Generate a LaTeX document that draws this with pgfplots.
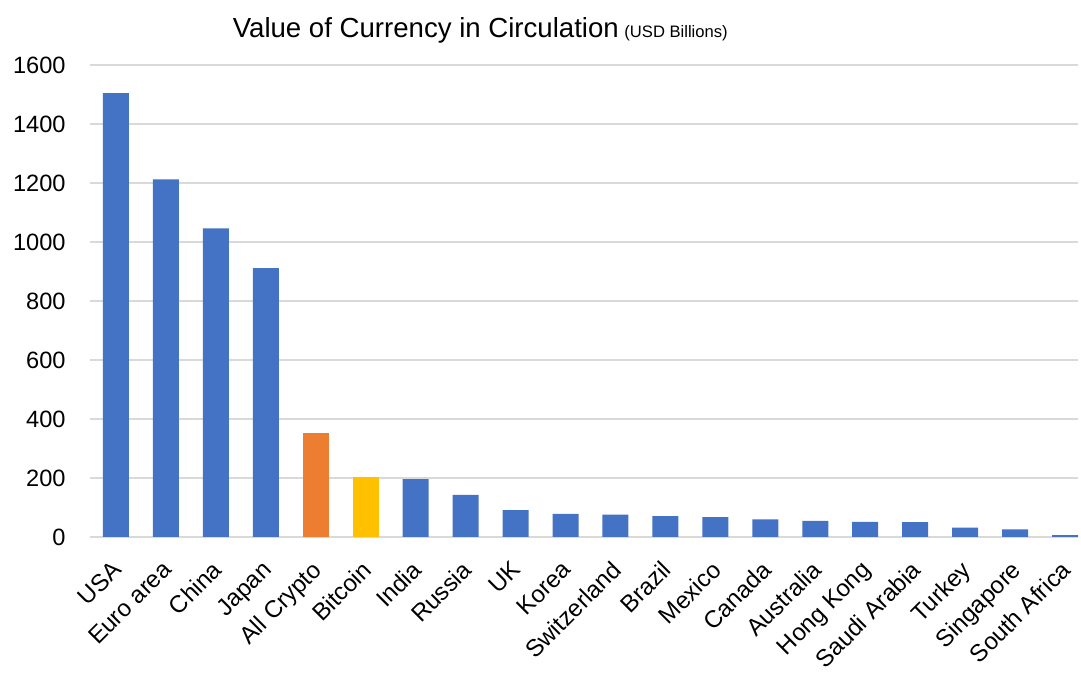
\documentclass[border=0pt]{standalone}
\usepackage{pgfplots}
\pgfplotsset{compat=1.18}
\usepackage{fontspec}
\setmainfont{Liberation Sans}
\usetikzlibrary{calc}
\definecolor{xblue}{HTML}{4472C4}
\definecolor{xorange}{HTML}{ED7D31}
\definecolor{xgold}{HTML}{FFC000}
\definecolor{xgrid}{HTML}{D9D9D9}
\begin{document}
\begin{tikzpicture}
\begin{axis}[
  scale only axis,
  width=494pt, height=236pt,
  xmin=-0.52, xmax=19.26,
  ymin=0, ymax=1600,
  ytick={0,200,...,1600},
  xtick={0,...,19},
  xticklabels={USA,Euro area,China,Japan,All Crypto,Bitcoin,India,Russia,UK,Korea,Switzerland,Brazil,Mexico,Canada,Australia,Hong Kong,Saudi Arabia,Turkey,Singapore,South Africa},
  xticklabel style={xshift=-2.5pt, yshift=-11pt, rotate=45, anchor=north east, inner sep=0pt, font=\fontsize{12}{13}\selectfont},
  yticklabel style={anchor=east, inner sep=0pt, xshift=-12pt, font=\fontsize{11.8}{13}\selectfont},
  /pgf/number format/assume math mode=true,
  /pgf/number format/1000 sep={},
  ymajorgrids,
  grid style={xgrid, line width=0.8pt},
  axis line style={draw=none},
  major tick length=0pt,
  ybar, bar width=13pt, bar shift=0pt,
  clip=false,
]
\addplot[fill=xblue, draw=none] coordinates {(0,1505) (1,1212) (2,1046) (3,911) (6,196) (7,143) (8,91) (9,78) (10,76) (11,71) (12,67) (13,60) (14,55) (15,51) (16,50) (17,32) (18,26) (19,6)};
\addplot[fill=xorange, draw=none] coordinates {(4,354)};
\addplot[fill=xgold, draw=none] coordinates {(5,202)};
\node[anchor=base, inner sep=0pt] at ([yshift=13.5pt]rel axis cs:0.395,1) {{\fontsize{13.8}{16}\selectfont Value of Currency in Circulation} {\fontsize{8.3}{10}\selectfont(USD Billions)}};
\coordinate (BL) at (rel axis cs:0,0);
\coordinate (TR) at (rel axis cs:1,1);
\end{axis}
\pgfresetboundingbox
\path ($(BL)+(-45pt,-68pt)$) rectangle ($(TR)+(1.5pt,32.5pt)$);
\end{tikzpicture}
\end{document}
